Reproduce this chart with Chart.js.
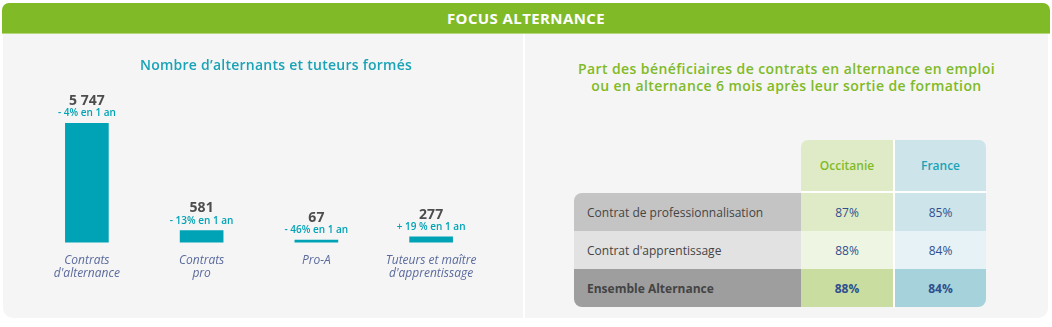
<!DOCTYPE html>
<html lang="fr">
<head>
<meta charset="utf-8">
<script src="https://cdn.jsdelivr.net/npm/chart.js@4.4.1/dist/chart.umd.min.js"></script>
<style>
  html, body { margin: 0; padding: 0; background: #fff; }
  body { width: 1052px; height: 327px; position: relative; overflow: hidden; font-family: "Open Sans", sans-serif; }
  .header {
    position: absolute; left: 2px; top: 3px; width: 1048px; height: 30px;
    background: #80ba27; border-radius: 7px 7px 0 0; border-bottom: 1px solid #b6d77f;
    color: #fff; font-weight: 700; font-size: 15px; letter-spacing: 0.4px; line-height: 30px; text-align: center;
  }
  .panel { position: absolute; top: 34px; height: 284px; background: #f5f5f5; }
  .panel.left { left: 3px; width: 520px; border-radius: 0 0 0 10px; }
  .panel.right { left: 525px; width: 523px; border-radius: 0 0 10px 0; }
  .title { position: absolute; left: 0; right: 0; text-align: center; font-weight: 600; }
  .left .title { top: 21px; left: 26px; color: #19a3b6; font-size: 14px; letter-spacing: 0.25px; }
  .right .title { top: 26px; color: #80ba27; font-size: 14px; letter-spacing: 0.4px; line-height: 17px; }
  #bars { position: absolute; left: 0; top: 0; }
  table { position: absolute; left: 49px; top: 106px; border-collapse: separate; border-spacing: 0; font-size: 12px; }
  td, th { padding: 0; }
  th { height: 51px; font-weight: 600; font-size: 12px; }
  td { height: 38px; }
  td.lab { width: 214px; padding-left: 13px; color: #444; text-align: left; }
  td.v, th.v { text-align: center; color: #2f4f8f; }
  .c0 { width: 92px; }
  .c1 { width: 91px; border-left: 2px solid #fff; }
  th.c0 { color: #80ba27; border-radius: 7px 0 0 0; border-bottom: 2px solid #fff; }
  th.c1 { color: #19a3b6; border-radius: 0 7px 0 0; border-bottom: 2px solid #fff; }
  tr.bold td { font-weight: 700; }
  tr.r0 td.lab { border-radius: 8px 0 0 0; }
  tr.r2 td.lab { border-radius: 0 0 0 8px; }
  tr.r2 td.c1 { border-radius: 0 0 8px 0; }
</style>
</head>
<body>
<div class="header">FOCUS ALTERNANCE</div>
<div class="panel left">
  <canvas id="bars" width="520" height="284"></canvas>
  <div class="title">Nombre d’alternants et tuteurs formés</div>
</div>
<div class="panel right">
  <div class="title">Part des bénéficiaires de contrats en alternance en emploi<br>ou en alternance 6 mois après leur sortie de formation</div>
  <table id="tbl"></table>
</div>
<script>
// left chart
const categories = [["Contrats", "d'alternance"], ["Contrats", "pro"], ["Pro-A"], ["Tuteurs et maître", "d'apprentissage"]];
const counts = [5747, 581, 67, 277];
const changes = ["- 4% en 1 an", "- 13% en 1 an", "- 46% en 1 an", "+ 19 % en 1 an"];

// right table
const regions = ["Occitanie", "France"];
const rowLabels = ["Contrat de professionnalisation", "Contrat d'apprentissage", "Ensemble Alternance"];
const occitanie = [87, 88, 88];
const france = [85, 84, 84];

const TEAL = "#00a3b6";

function fmtThousands(n) {
  return String(n).replace(/\B(?=(\d{3})+(?!\d))/g, " ");
}

const valueLabels = {
  id: "valueLabels",
  afterDatasetsDraw(chart) {
    const ctx = chart.ctx;
    const meta = chart.getDatasetMeta(0);
    ctx.save();
    ctx.textAlign = "center";
    ctx.textBaseline = "middle";
    meta.data.forEach((bar, i) => {
      ctx.fillStyle = "#4d4d4d";
      ctx.font = "700 14px 'Open Sans'";
      ctx.fillText(fmtThousands(counts[i]), bar.x, bar.y - 22);
      ctx.fillStyle = TEAL;
      ctx.font = "600 10px 'Open Sans'";
      ctx.fillText(changes[i], bar.x, bar.y - 9.5);
    });
    ctx.restore();
  },
};

new Chart(document.getElementById("bars"), {
  type: "bar",
  data: {
    labels: categories,
    datasets: [{
      data: counts,
      backgroundColor: TEAL,
      barThickness: 43,
      minBarLength: 2.5,
    }],
  },
  options: {
    responsive: false,
    animation: false,
    layout: { padding: { left: 26.5, right: 34.5, top: 89, bottom: 27 } },
    plugins: { legend: { display: false }, tooltip: { enabled: false } },
    scales: {
      x: {
        grid: { display: false, drawTicks: false },
        border: { display: false },
        ticks: {
          padding: 11,
          color: "#5a6a9c",
          font: { family: "Open Sans", size: 12, style: "italic", lineHeight: 1.1 },
          maxRotation: 0,
          autoSkip: false,
        },
      },
      y: { display: false, min: 0, max: 5747 },
    },
  },
  plugins: [valueLabels],
});

// table
const rowBg = [
  ["#c4c4c4", "#dfebc6", "#cde4ea"],
  ["#e2e2e2", "#eff5e3", "#e7f2f6"],
  ["#9e9e9e", "#c8dd9f", "#a5d2db"],
];
const tbl = document.getElementById("tbl");
let html = '<tr><th></th><th class="v c0" style="background:#dfebc6">' + regions[0] +
  '</th><th class="v c1" style="background:#cde4ea">' + regions[1] + "</th></tr>";
rowLabels.forEach((lab, i) => {
  html += '<tr class="r' + i + (i === 2 ? " bold" : "") + '">' +
    '<td class="lab" style="background:' + rowBg[i][0] + '">' + lab + "</td>" +
    '<td class="v c0" style="background:' + rowBg[i][1] + '">' + occitanie[i] + "%</td>" +
    '<td class="v c1" style="background:' + rowBg[i][2] + '">' + france[i] + "%</td></tr>";
});
tbl.innerHTML = html;
</script>
</body>
</html>
